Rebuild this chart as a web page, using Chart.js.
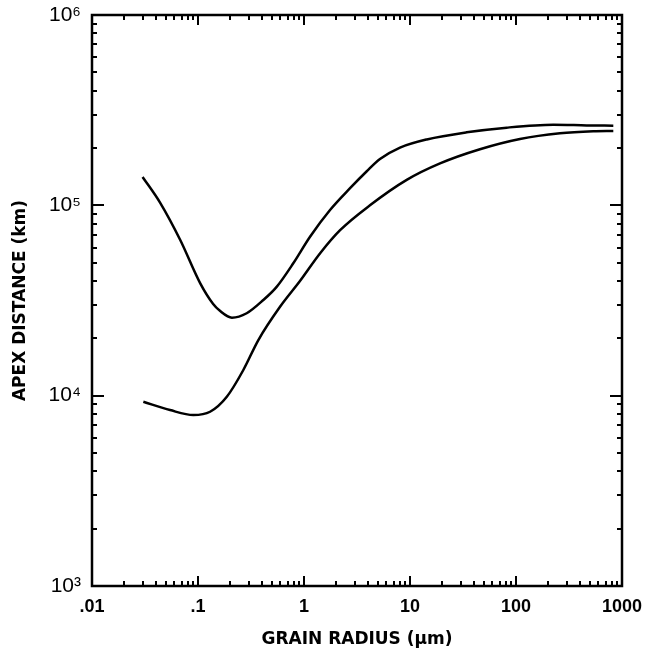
<!DOCTYPE html>
<html>
<head>
<meta charset="utf-8">
<script src="https://cdn.jsdelivr.net/npm/chart.js@4/dist/chart.umd.min.js"></script>
<style>
  html,body{margin:0;padding:0;background:#fff;}
  canvas{display:block;}
</style>
</head>
<body>
<canvas id="chart" width="645" height="654"></canvas>
<script>
// curves (grain radius in um, apex distance in km)
const upperX = [0.03, 0.044, 0.068, 0.105, 0.139, 0.161, 0.209, 0.288, 0.413, 0.552, 0.792, 1.14, 1.76, 2.72, 3.91, 5.21, 8.05, 14.4, 34.3, 81.7, 225, 464, 828];
const upperY = [1.41e5, 1.03e5, 6.57e4, 3.89e4, 3.03e4, 2.79e4, 2.57e4, 2.71e4, 3.18e4, 3.73e4, 4.96e4, 6.84e4, 9.45e4, 1.23e5, 1.51e5, 1.75e5, 2.01e5, 2.22e5, 2.42e5, 2.56e5, 2.65e5, 2.63e5, 2.62e5];

const lowerX = [0.0305, 0.0545, 0.0904, 0.130, 0.187, 0.267, 0.371, 0.594, 0.916, 1.42, 2.19, 4.19, 9.31, 19.2, 45.7, 109, 260, 536, 828];
const lowerY = [9.29e3, 8.40e3, 7.91e3, 8.23e3, 9.87e3, 1.36e4, 1.96e4, 2.93e4, 4.0e4, 5.6e4, 7.4e4, 1.0e5, 1.36e5, 1.66e5, 1.97e5, 2.23e5, 2.39e5, 2.45e5, 2.46e5];

// tick labels
const xDecades = [0.01, 0.1, 1, 10, 100, 1000];
const xLabels = ['.01', '.1', '1', '10', '100', '1000'];
const yDecades = [1e3, 1e4, 1e5, 1e6];
const yLabels = ['10\u00B3', '10\u2074', '10\u2075', '10\u2076'];

function logTicks(decades){
  const out = [];
  for(let i=0;i<decades.length;i++){
    out.push(decades[i]);
    if(i<decades.length-1) for(let k=2;k<=9;k++) out.push(+(decades[i]*k).toPrecision(3));
  }
  return out;
}
function isDecade(v){ const e = Math.log10(v); return Math.abs(e-Math.round(e))<1e-6; }
function labelFor(v, decades, labels){
  const i = decades.findIndex(d=>Math.abs(d-v)/d<1e-6);
  return i>=0 ? labels[i] : '';
}

const FONT = '"Liberation Sans", Arial, sans-serif';
const TITLE_FONT = '"DejaVu Sans", sans-serif';

// inward ticks on all four sides plus the frame
const frameTicks = {
  id:'frameTicks',
  afterDraw(chart){
    const ctx = chart.ctx;
    const {left,right,top,bottom} = chart.chartArea;
    const xs = chart.scales.x, ys = chart.scales.y;
    ctx.save();
    ctx.strokeStyle = '#000';
    ctx.lineWidth = 2;
    ctx.beginPath();
    xs.ticks.forEach(t=>{
      const px = Math.round(xs.getPixelForValue(t.value));
      const len = isDecade(t.value) ? 10 : 5;
      ctx.moveTo(px,bottom); ctx.lineTo(px,bottom-len);
      ctx.moveTo(px,top); ctx.lineTo(px,top+len);
    });
    ys.ticks.forEach(t=>{
      const py = Math.round(ys.getPixelForValue(t.value));
      const len = isDecade(t.value) ? 12 : 5;
      ctx.moveTo(left,py); ctx.lineTo(left+len,py);
      ctx.moveTo(right,py); ctx.lineTo(right-len,py);
    });
    ctx.stroke();
    ctx.lineWidth = 2.5;
    ctx.strokeRect(left,top,right-left,bottom-top);
    ctx.restore();
  }
};

new Chart(document.getElementById('chart'), {
  type:'line',
  data:{
    datasets:[
      { data: upperX.map((x,i)=>({x, y:upperY[i]})), borderColor:'#000', borderWidth:2.5, pointRadius:0, cubicInterpolationMode:'monotone', fill:false },
      { data: lowerX.map((x,i)=>({x, y:lowerY[i]})), borderColor:'#000', borderWidth:2.5, pointRadius:0, cubicInterpolationMode:'monotone', fill:false }
    ]
  },
  options:{
    responsive:false,
    animation:false,
    layout:{ padding:{ left:0, right:23, top:15, bottom:0 } },
    plugins:{ legend:{display:false}, tooltip:{enabled:false} },
    scales:{
      x:{
        type:'logarithmic', min:0.01, max:1000,
        afterBuildTicks(s){ s.ticks = logTicks(xDecades).map(v=>({value:v})); },
        afterFit(s){ s.height = 68; s.paddingLeft = 0; s.paddingRight = 0; },
        grid:{ display:false, drawTicks:false },
        border:{ display:false },
        ticks:{ autoSkip:false, maxRotation:0, padding:10, color:'#000',
          font:{ family:FONT, size:18, weight:'bold' },
          callback:(v)=>labelFor(v, xDecades, xLabels) },
        title:{ display:true, text:'GRAIN RADIUS (\u03BCm)', color:'#000',
          font:{ family:TITLE_FONT, size:17, weight:'bold' }, padding:{top:0, bottom:4} }
      },
      y:{
        type:'logarithmic', min:1e3, max:1e6,
        afterBuildTicks(s){ s.ticks = logTicks(yDecades).map(v=>({value:v})); },
        afterFit(s){ s.width = 92; s.paddingTop = 0; s.paddingBottom = 0; },
        grid:{ display:false, drawTicks:false },
        border:{ display:false },
        ticks:{ autoSkip:false, padding:11, color:'#000',
          font:{ family:FONT, size:21 },
          callback:(v)=>labelFor(v, yDecades, yLabels) },
        title:{ display:true, text:'APEX DISTANCE (km)', color:'#000',
          font:{ family:TITLE_FONT, size:17, weight:'bold' }, padding:{top:10, bottom:0} }
      }
    }
  },
  plugins:[frameTicks]
});
</script>
</body>
</html>
